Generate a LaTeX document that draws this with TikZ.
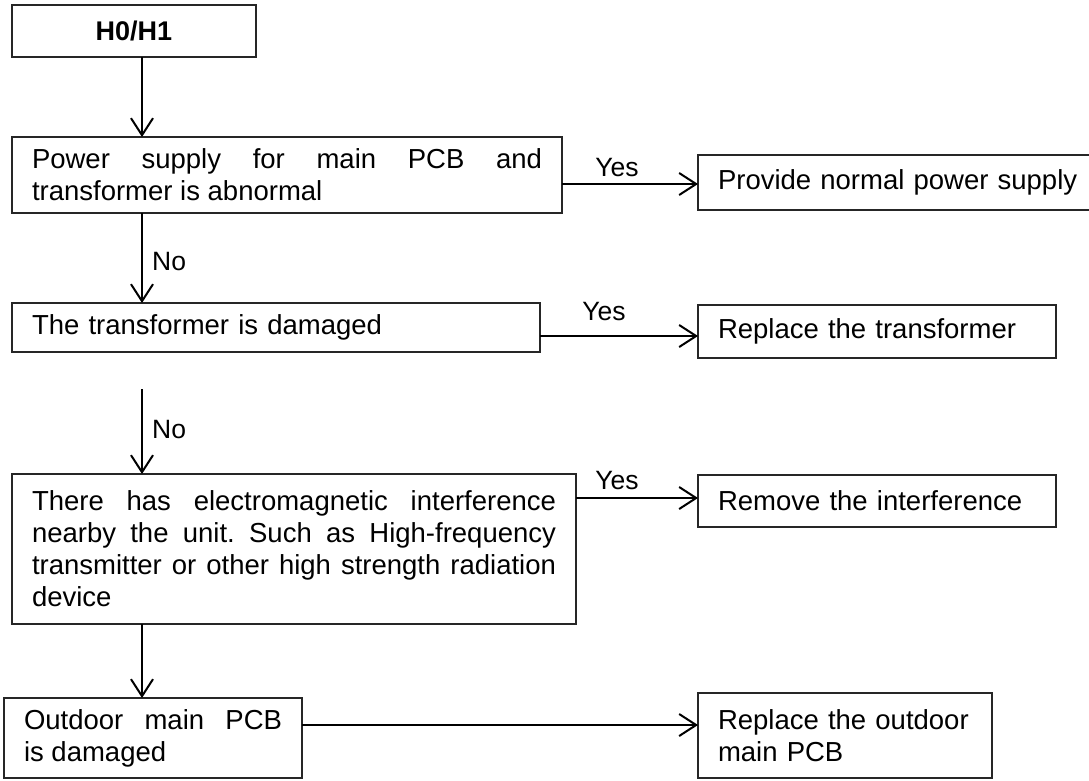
\documentclass[tikz,border=0pt]{standalone}
\usepackage{fontspec}
\setmainfont{Liberation Sans}
\usetikzlibrary{arrows.meta}
\begin{document}
\frenchspacing
\begin{tikzpicture}[x=1pt,y=-1pt,
  box/.style={draw=black!85, line width=1.3pt, rectangle, anchor=north west,
    inner ysep=0pt, inner xsep=20pt, outer sep=0pt,
    font=\fontsize{27.5}{32}\selectfont},
  jbox/.style={box, align=justify},
  lbox/.style={box, align=left},
  arr/.style={draw=black, line width=2pt, -{Straight Barb[length=17pt,width=22pt]}},
  lbl/.style={font=\fontsize{26.5}{30}\selectfont, inner sep=0pt}]
\useasboundingbox (0,0) rectangle (1089,780);
\fill[white] (0,0) rectangle (1089,780);
\clip (0,0) rectangle (1089,780);
\hyphenpenalty=10000 \exhyphenpenalty=10000

% left column: checks
\node[box, align=center, inner xsep=0pt, minimum width=244pt, minimum height=52pt,
  font=\fontsize{27}{32}\selectfont\bfseries] (h) at (12,5) {H0/H1};
\node[jbox, text width=510pt, minimum height=76pt] (b1) at (12,137)
  {Power supply for main PCB and\linebreak transformer is abnormal};
\node[lbox, text width=488pt, minimum height=49pt] (b2) at (12,303)
  {The transformer is damaged};
\node[jbox, text width=524pt, minimum height=150pt] (b3) at (12,474)
  {There has electromagnetic interference\linebreak nearby the unit. Such as High-frequency\linebreak transmitter or other high strength radiation\linebreak device};
\node[jbox, text width=258pt, minimum height=80pt] (b4) at (4,698)
  {Outdoor main PCB\linebreak is damaged};

% right column: actions
\node[lbox, text width=400pt, minimum height=55pt] (p1) at (698,155)
  {Provide normal power supply};
\node[lbox, text width=318pt, minimum height=53pt] (r2) at (698,305)
  {Replace the transformer};
\node[lbox, text width=318pt, minimum height=52pt] (r3) at (698,475)
  {Remove the interference};
\node[lbox, text width=254pt, minimum height=85pt] (r5) at (698,693)
  {Replace the outdoor\\main PCB};

% helper coordinates
\coordinate (spine) at (142,0);
\coordinate (n2) at (142,389);
\coordinate (y1) at (0,184);
\coordinate (y2) at (0,336);
\coordinate (y3) at (0,498);
\coordinate (y4) at (0,725);

% vertical flow
\draw[arr] (h.south -| spine) -- (b1.north -| spine);
\draw[arr] (b1.south -| spine) -- (b2.north -| spine);
\draw[arr] (n2) -- (b3.north -| spine);
\draw[arr] (b3.south -| spine) -- (b4.north -| spine);
\node[lbl, anchor=west] (no1) at (152,262) {No};
\node[lbl, anchor=west] (no2) at (152,430) {No};

% horizontal flow
\draw[arr] (b1.east |- y1) -- (p1.west |- y1);
\draw[arr] (b2.east |- y2) -- (r2.west |- y2);
\draw[arr] (b3.east |- y3) -- (r3.west |- y3);
\draw[arr] (b4.east |- y4) -- (r5.west |- y4);
\node[lbl] (yes1) at (617,168) {Yes};
\node[lbl] (yes2) at (604,312) {Yes};
\node[lbl] (yes3) at (617,481) {Yes};
\end{tikzpicture}
\end{document}
